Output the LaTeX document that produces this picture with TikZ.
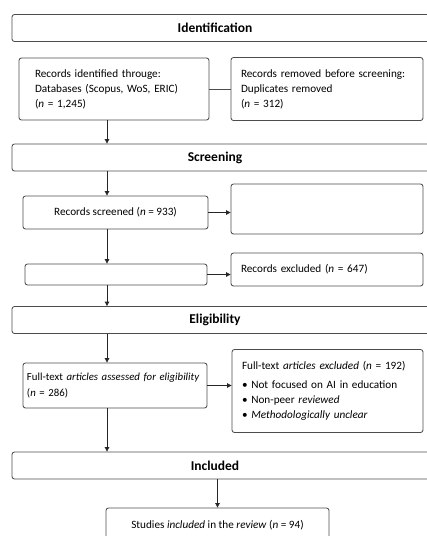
\documentclass[tikz,border=0pt]{standalone}
\usepackage{fontspec}
\setmainfont{Carlito}
\usetikzlibrary{arrows.meta}
\tikzset{
  stage/.style={draw=black!70, rounded corners=2.5pt, minimum width=420pt, minimum height=27pt, inner sep=0pt},
  box/.style={draw=black!70, rounded corners=2.5pt, align=left, inner ysep=0pt, font=\fontsize{11.2}{15}\selectfont},
  arr/.style={-{Triangle[length=4.5pt,width=4.5pt]}, black!85, line width=0.85pt},
}
\begin{document}
\begin{tikzpicture}[x=1pt, y=-1pt, line width=0.85pt]
  \useasboundingbox (0,0) rectangle (427,536);
  \clip (0,0) rectangle (427,536);
  \foreach \n/\y/\t in {ident/28/Identification, screen/157.5/Screening, elig/320/Eligibility, incl/465.5/Included} {
    \node[stage, label={[xshift=-7pt, font=\bfseries\fontsize{13.5}{15}\selectfont]center:\t}] (\n) at (222,\y) {};
  }
  \coordinate (spine) at (107,0);
  \node[box, text width=158pt, inner xsep=16pt, minimum height=62pt] (src) at (114,89) {Records identified througe:\\ Databases (Scopus, WoS, ERIC)\\ (\textit{n} = 1,245)};
  \node[box, text width=172pt, inner xsep=10pt, minimum height=63pt] (dup) at (327,89) {Records removed before screening:\\ Duplicates removed\\ (\textit{n} = 312)};
  \node[box, align=center, minimum width=185pt, minimum height=33pt] (scr) at (115.5,212.5) {Records screened (\textit{n} = 933)};
  \node[box, minimum width=192pt, minimum height=50pt] (blank1) at (327,209) {};
  \node[box, minimum width=182pt, minimum height=21pt] (blank2) at (116,274.5) {};
  \node[box, text width=172pt, inner xsep=10pt, minimum height=33pt] (excl) at (327,269.5) {Records excluded (\textit{n} = 647)};
  \node[box, text width=176pt, inner xsep=4pt, minimum height=45pt, font=\fontsize{10.8}{16}\selectfont] (full) at (115,385.5) {\mbox{Full-text \textit{articles assessed for eligibility}}\\ (\textit{n} = 286)};
  \node[box, text width=171pt, inner xsep=10pt, minimum height=83pt] (fexcl) at (327.5,391) {Full-text \textit{articles excluded} (\textit{n} = 192)\\[4pt]
    \textbullet\ Not focused on AI in education\\
    \textbullet\ Non-peer \textit{reviewed}\\
    \textbullet\ \textit{Methodologically unclear}};
  \node[box, align=center, minimum width=223pt, minimum height=34pt] (final) at (217.5,525) {Studies \textit{included} in the \textit{review} (\textit{n} = 94)};
  \draw[black!70] (src) -- (dup);
  \draw[arr] (src.south -| spine) -- (screen.north -| spine);
  \draw[arr] (screen.south -| spine) -- (scr.north -| spine);
  \draw[arr] (scr.east) -- (scr.east -| blank1.west);
  \draw[arr] (scr.south -| spine) -- (blank2.north -| spine);
  \draw[arr] (blank2.east) -- (blank2.east -| excl.west);
  \draw[arr] (blank2.south -| spine) -- (elig.north -| spine);
  \draw[arr] (elig.south -| spine) -- (full.north -| spine);
  \draw[arr] (full.east) -- (full.east -| fexcl.west);
  \draw[arr] (full.south -| spine) -- (incl.north -| spine);
  \draw[arr] (incl.south -| final.north) -- (final.north);
\end{tikzpicture}
\end{document}
